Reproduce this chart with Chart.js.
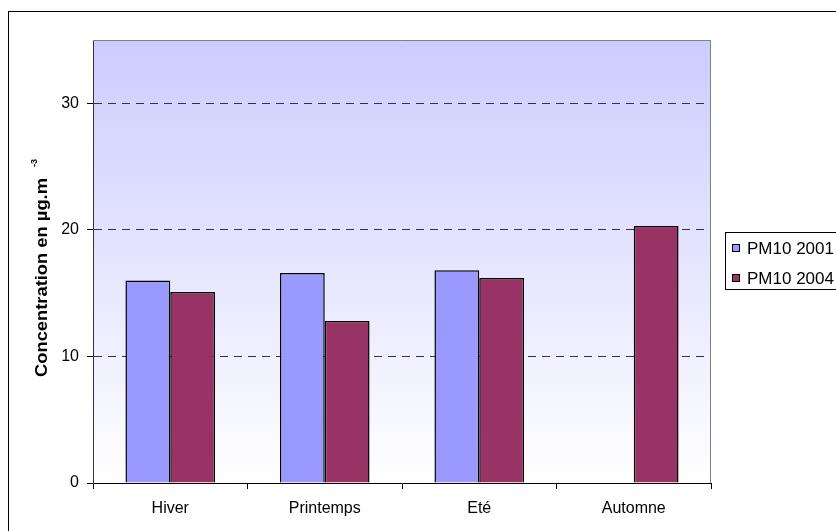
<!DOCTYPE html>
<html>
<head>
<meta charset="utf-8">
<script src="https://cdn.jsdelivr.net/npm/chart.js@4/dist/chart.umd.min.js"></script>
<style>
  html, body { margin: 0; padding: 0; background: #fff; }
  #wrap { width: 836px; height: 531px; }
</style>
</head>
<body>
<div id="wrap"><canvas id="pmChart" width="836" height="531"></canvas></div>
<script>
    const seasons = ['Hiver', 'Printemps', 'Eté', 'Automne'];
    const pm2001 = [16.0, 16.6, 16.8, null];
    const pm2004 = [15.1, 12.8, 16.2, 20.3];
    const yTicks = [0, 10, 20, 30];
    const yMax = 35;

    const FONT = 'Arial, "Liberation Sans", sans-serif';

    // plot background, frame, outer border, y title and boxed legend
    const decor = {
        id: 'decor',
        beforeDatasetsDraw(chart) {
            const { ctx, chartArea: a } = chart;
            ctx.save();
            let g = ctx.createLinearGradient(0, a.top, 0, a.bottom);
            g.addColorStop(0, '#ccccff');
            g.addColorStop(1, '#ffffff');
            ctx.globalCompositeOperation = 'destination-over';
            ctx.fillStyle = g;
            ctx.fillRect(a.left, a.top, a.right - a.left, a.bottom - a.top);
            ctx.restore();
        },
        afterDraw(chart) {
            const { ctx, chartArea: a } = chart;
            ctx.save();
            // gray frame top/right
            ctx.strokeStyle = '#808080';
            ctx.lineWidth = 1;
            ctx.beginPath();
            ctx.moveTo(a.left, a.top + 0.5);
            ctx.lineTo(a.right - 0.5, a.top + 0.5);
            ctx.lineTo(a.right - 0.5, a.bottom);
            ctx.stroke();

            // outer border
            ctx.strokeStyle = '#000';
            ctx.strokeRect(8.5, 11.5, 900, 600);

            // y title, stretched to the reference length
            ctx.fillStyle = '#000';
            ctx.font = 'bold 16px ' + FONT;
            const t = 'Concentration en µg.m';
            const w = ctx.measureText(t).width;
            const len = 199;
            ctx.translate(46.5, 178 + len);
            ctx.rotate(-Math.PI / 2);
            ctx.textBaseline = 'alphabetic';
            ctx.textAlign = 'left';
            ctx.save();
            ctx.scale(len / w, 1);
            ctx.fillText(t, 0, 0);
            ctx.restore();
            ctx.font = 'bold 9px ' + FONT;
            ctx.fillText('-3', len + 11, -10);
            ctx.restore();

            // legend
            ctx.save();
            ctx.strokeStyle = '#000';
            ctx.lineWidth = 1;
            ctx.strokeRect(725.5, 232.5, 140, 57);
            ctx.font = '17px ' + FONT;
            ctx.textBaseline = 'middle';
            chart.data.datasets.forEach((ds, i) => {
                const y = 248 + i * 30;
                ctx.fillStyle = ds.backgroundColor;
                ctx.fillRect(732, y - 4, 8, 8);
                ctx.strokeStyle = '#000';
                ctx.strokeRect(732.5, y - 3.5, 7, 7);
                ctx.fillStyle = '#000';
                ctx.fillText(ds.label, 747, y + 1);
            });
            ctx.restore();
        }
    };

    new Chart(document.getElementById('pmChart'), {
        type: 'bar',
        data: {
            labels: seasons,
            datasets: [{
                label: 'PM10 2001',
                data: pm2001,
                backgroundColor: '#9999ff',
                borderColor: '#000',
                borderWidth: 1.5
            }, {
                label: 'PM10 2004',
                data: pm2004,
                backgroundColor: '#993366',
                borderColor: '#000',
                borderWidth: 1.5
            }]
        },
        options: {
            responsive: false,
            animation: false,
            layout: { padding: { left: 0, top: 40, right: 125, bottom: 0 } },
            datasets: { bar: { categoryPercentage: 0.58, barPercentage: 1.0 } },
            plugins: {
                legend: { display: false },
                tooltip: { enabled: false }
            },
            scales: {
                x: {
                    offset: true,
                    afterFit: s => { s.height = 48; },
                    grid: {
                        offset: true,
                        drawOnChartArea: false,
                        drawTicks: true,
                        tickLength: 6,
                        tickColor: '#000'
                    },
                    border: { color: '#000', width: 1 },
                    ticks: { color: '#000', font: { family: FONT, size: 16 }, padding: 10 }
                },
                y: {
                    min: 0,
                    max: yMax,
                    afterFit: s => { s.width = 93; },
                    afterBuildTicks: s => { s.ticks = yTicks.map(v => ({ value: v })); },
                    grid: {
                        color: c => (c.tick && c.tick.value === 0) ? 'rgba(0,0,0,0)' : '#333333',
                        tickColor: '#000',
                        tickLength: 6,
                        tickBorderDash: []
                    },
                    border: { color: '#333', width: 1, dash: [8, 6] },
                    ticks: { color: '#000', font: { family: FONT, size: 16 }, padding: 8 }
                }
            }
        },
        plugins: [decor]
    });
</script>
</body>
</html>
